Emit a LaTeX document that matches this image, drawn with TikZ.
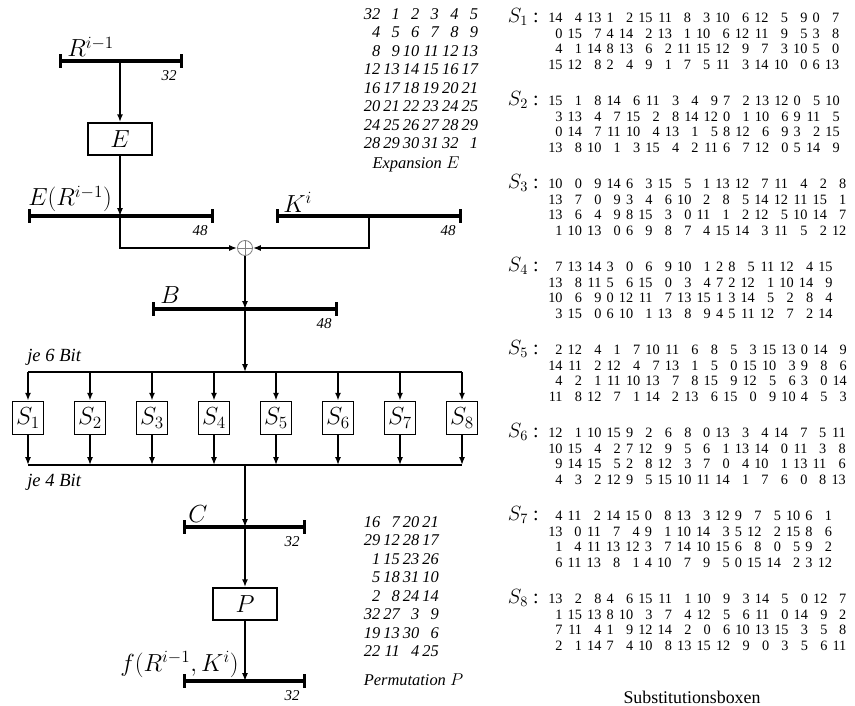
\documentclass[tikz,border=0pt]{standalone}
\usepackage[no-math]{fontspec}
\setmainfont{Liberation Serif}
\usepackage{amsmath}
\usetikzlibrary{shapes,arrows.meta,positioning}

\newcommand{\sboxtab}[1]{\setlength\tabcolsep{1.8pt}\begin{tabular}[t]{@{}*{16}{r}@{}}#1\end{tabular}}
\newcommand{\permtab}[2]{\setlength\tabcolsep{1.1pt}\begin{tabular}[t]{@{}*{#1}{r}@{}}#2\end{tabular}}

\begin{document}
\begin{tikzpicture}[x=0.7pt, y=-0.7pt]
        \tikzstyle{block} = [rectangle, draw, line width=1.2pt, minimum width=44.8pt, minimum height=22.4pt, inner sep=0pt, font=\fontsize{17}{19}\selectfont]
        \tikzstyle{sblock} = [block, minimum width=21.7pt, minimum height=23.1pt]
        \tikzstyle{line} = [draw, line width=1.2pt, -{Latex[length=5.5pt,width=4.2pt]}]
        \tikzstyle{wire} = [draw, line width=1.2pt]
        \tikzstyle{bus} = [draw, line width=2.4pt, {Bar[width=9.5pt]}-{Bar[width=9.5pt]}]
        \tikzstyle{buslabel} = [inner sep=0pt, anchor=base west, font=\fontsize{17.5}{20}\selectfont]
        \tikzstyle{bitlabel} = [inner sep=0pt, anchor=north east, font=\fontsize{10.5}{12}\selectfont\itshape]
        \tikzstyle{note} = [inner sep=0pt, anchor=base west, font=\fontsize{13}{15}\selectfont\itshape]
        \tikzstyle{ptab} = [inner sep=0pt, anchor=base west, font=\fontsize{11.5}{12.9}\selectfont\itshape]
        \tikzstyle{stab} = [inner sep=0pt, anchor=base west, font=\fontsize{10}{11}\selectfont]
        \tikzstyle{slabel} = [inner sep=0pt, anchor=base east, font=\fontsize{14}{16}\selectfont]

        \useasboundingbox (0,0) rectangle (855,706);

        % bus bars
        \coordinate (rl) at (59,61);   \coordinate (rr) at (183,61);
        \coordinate (el) at (28,216);  \coordinate (er) at (214,216);
        \coordinate (kl) at (276,216); \coordinate (kr) at (462,216);
        \coordinate (bl) at (152,309); \coordinate (br) at (338,309);
        \coordinate (cl) at (183,527); \coordinate (cr) at (306,527);
        \coordinate (fl) at (183,681); \coordinate (fr) at (306,681);
        \coordinate (ktap) at (369,216);
        \coordinate (split) at (28,372); \coordinate (splitr) at (462,372);
        \coordinate (join) at (28,465);  \coordinate (joinr) at (462,465);

        \draw [bus] (rl) -- (rr);
        \draw [bus] (el) -- (er);
        \draw [bus] (kl) -- (kr);
        \draw [bus] (bl) -- (br);
        \draw [bus] (cl) -- (cr);
        \draw [bus] (fl) -- (fr);

        \node [buslabel] (rlab) at (67,57) {$R^{i-1}$};
        \node [buslabel] (elab) at (28,206) {$E(R^{i-1})$};
        \node [buslabel] (klab) at (283,212) {$K^{i}$};
        \node [buslabel] (blab) at (160,303) {$B$};
        \node [buslabel] (clab) at (188,522) {$C$};
        \node [buslabel, anchor=base east, font=\fontsize{18}{20}\selectfont] (flab) at (239,671) {$f(R^{i-1},K^{i})$};

        \node [bitlabel] (rbits) at ([xshift=-4.2pt,yshift=-6.3pt]rr) {32};
        \node [bitlabel] (ebits) at ([xshift=-4.2pt,yshift=-6.3pt]er) {48};
        \node [bitlabel] (kbits) at ([xshift=-4.2pt,yshift=-6.3pt]kr) {48};
        \node [bitlabel] (bbits) at ([xshift=-4.2pt,yshift=-6.3pt]br) {48};
        \node [bitlabel] (cbits) at ([xshift=-4.2pt,yshift=-6.3pt]cr) {32};
        \node [bitlabel] (fbits) at ([xshift=-4.2pt,yshift=-6.3pt]fr) {32};

        % blocks
        \node [block] (e) at (120,139) {$E$};
        \node [block] (p) at (245,604) {$P$};
        \node [draw=gray, circle, line width=0.6pt, minimum size=10.5pt, inner sep=0pt,
               path picture={\draw[gray, line width=0.6pt] (path picture bounding box.north) -- (path picture bounding box.south)
               (path picture bounding box.west) -- (path picture bounding box.east);}] (xor) at (245,248) {};
        \foreach \i in {1,...,8}
            \node [sblock] (s\i) at ({28+62*(\i-1)},418) {$S_{\i}$};

        % connections
        \path [line] (e |- rl) -- (e);
        \path [line] (e) -- (e |- el);
        \path [line] (e |- el) |- (xor);
        \path [line] (ktap) |- (xor);
        \path [line] (xor) -- (xor |- bl);
        \path [line] (xor |- bl) -- (xor |- split);
        \path [wire] (split) -- (splitr);
        \path [wire] (join) -- (joinr);
        \foreach \i in {1,...,8} {
            \path [line] (s\i |- split) -- (s\i);
            \path [line] (s\i) -- (s\i |- join);
        }
        \path [line] (xor |- join) -- (xor |- cl);
        \path [line] (xor |- cl) -- (p);
        \path [line] (p) -- (p |- fl);

        \node [note] (six) at (27,361) {je 6 Bit};
        \node [note] (four) at (27,486) {je 4 Bit};

        % tables
        \node [ptab] (etab) at (363.5,19.5) {\permtab{6}{%
            32& 1& 2& 3& 4& 5\\
            4& 5& 6& 7& 8& 9\\
            8& 9&10&11&12&13\\
            12&13&14&15&16&17\\
            16&17&18&19&20&21\\
            20&21&22&23&24&25\\
            24&25&26&27&28&29\\
            28&29&30&31&32& 1}};
        \node [ptab, anchor=base] (ecap) at (416,168) {Expansion $E$};

        \node [ptab] (ptable) at (363.5,527.5) {\permtab{4}{%
            16& 7&20&21\\
            29&12&28&17\\
            1&15&23&26\\
            5&18&31&10\\
            2& 8&24&14\\
            32&27& 3& 9\\
            19&13&30& 6\\
            22&11& 4&25}};
        \node [ptab] (pcap) at (363.5,685) {Permutation $P$};

        \node [slabel] (sl1) at (539,22.5) {$S_{1}$ :};
        \node [stab] (st1) at (548,22.5) {\sboxtab{%
            14&4&13&1&2&15&11&8&3&10&6&12&5&9&0&7\\
            0&15&7&4&14&2&13&1&10&6&12&11&9&5&3&8\\
            4&1&14&8&13&6&2&11&15&12&9&7&3&10&5&0\\
            15&12&8&2&4&9&1&7&5&11&3&14&10&0&6&13}};
        \node [slabel] (sl2) at (539,105.5) {$S_{2}$ :};
        \node [stab] (st2) at (548,105.5) {\sboxtab{%
            15&1&8&14&6&11&3&4&9&7&2&13&12&0&5&10\\
            3&13&4&7&15&2&8&14&12&0&1&10&6&9&11&5\\
            0&14&7&11&10&4&13&1&5&8&12&6&9&3&2&15\\
            13&8&10&1&3&15&4&2&11&6&7&12&0&5&14&9}};
        \node [slabel] (sl3) at (539,188.5) {$S_{3}$ :};
        \node [stab] (st3) at (548,188.5) {\sboxtab{%
            10&0&9&14&6&3&15&5&1&13&12&7&11&4&2&8\\
            13&7&0&9&3&4&6&10&2&8&5&14&12&11&15&1\\
            13&6&4&9&8&15&3&0&11&1&2&12&5&10&14&7\\
            1&10&13&0&6&9&8&7&4&15&14&3&11&5&2&12}};
        \node [slabel] (sl4) at (539,271.5) {$S_{4}$ :};
        \node [stab] (st4) at (548,271.5) {\sboxtab{%
            7&13&14&3&0&6&9&10&1&2&8&5&11&12&4&15\\
            13&8&11&5&6&15&0&3&4&7&2&12&1&10&14&9\\
            10&6&9&0&12&11&7&13&15&1&3&14&5&2&8&4\\
            3&15&0&6&10&1&13&8&9&4&5&11&12&7&2&14}};
        \node [slabel] (sl5) at (539,354.5) {$S_{5}$ :};
        \node [stab] (st5) at (548,354.5) {\sboxtab{%
            2&12&4&1&7&10&11&6&8&5&3&15&13&0&14&9\\
            14&11&2&12&4&7&13&1&5&0&15&10&3&9&8&6\\
            4&2&1&11&10&13&7&8&15&9&12&5&6&3&0&14\\
            11&8&12&7&1&14&2&13&6&15&0&9&10&4&5&3}};
        \node [slabel] (sl6) at (539,437.5) {$S_{6}$ :};
        \node [stab] (st6) at (548,437.5) {\sboxtab{%
            12&1&10&15&9&2&6&8&0&13&3&4&14&7&5&11\\
            10&15&4&2&7&12&9&5&6&1&13&14&0&11&3&8\\
            9&14&15&5&2&8&12&3&7&0&4&10&1&13&11&6\\
            4&3&2&12&9&5&15&10&11&14&1&7&6&0&8&13}};
        \node [slabel] (sl7) at (539,520.5) {$S_{7}$ :};
        \node [stab] (st7) at (548,520.5) {\sboxtab{%
            4&11&2&14&15&0&8&13&3&12&9&7&5&10&6&1\\
            13&0&11&7&4&9&1&10&14&3&5&12&2&15&8&6\\
            1&4&11&13&12&3&7&14&10&15&6&8&0&5&9&2\\
            6&11&13&8&1&4&10&7&9&5&0&15&14&2&3&12}};
        \node [slabel] (sl8) at (539,603.5) {$S_{8}$ :};
        \node [stab] (st8) at (548,603.5) {\sboxtab{%
            13&2&8&4&6&15&11&1&10&9&3&14&5&0&12&7\\
            1&15&13&8&10&3&7&4&12&5&6&11&0&14&9&2\\
            7&11&4&1&9&12&14&2&0&6&10&13&15&3&5&8\\
            2&1&14&7&4&10&8&13&15&12&9&0&3&5&6&11}};
        \node [anchor=base, inner sep=0pt, font=\fontsize{12.5}{14}\selectfont] (scap) at (692,703) {Substitutionsboxen};
\end{tikzpicture}
\end{document}
